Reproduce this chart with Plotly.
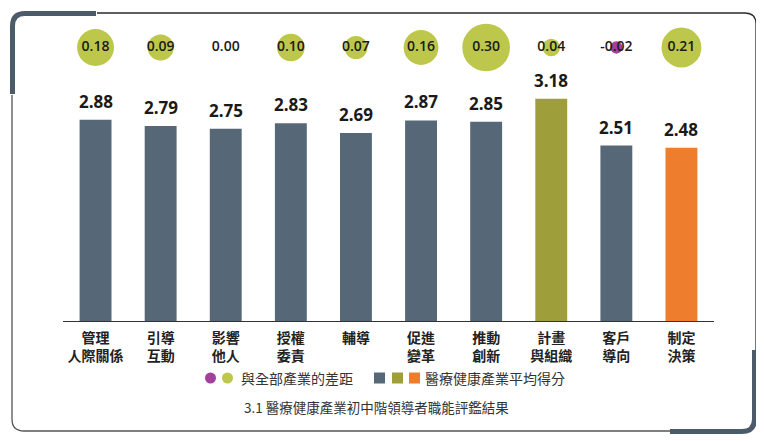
import plotly.graph_objects as go

categories = ["管理<br>人際關係", "引導<br>互動", "影響<br>他人", "授權<br>委責", "輔導",
              "促進<br>變革", "推動<br>創新", "計畫<br>與組織", "客戶<br>導向", "制定<br>決策"]
avg_scores = [2.88, 2.79, 2.75, 2.83, 2.69, 2.87, 2.85, 3.18, 2.51, 2.48]
gap_to_all = [0.18, 0.09, 0.00, 0.10, 0.07, 0.16, 0.30, 0.04, -0.02, 0.21]
bar_colors = ["#566877"] * 7 + ["#9e9e3a", "#566877", "#ee7d2e"]

GREEN = "#bcc74c"
PURPLE = "#a3409b"
SLATE = "#4b5b6a"

W, H = 764, 442
PAGE_OFFSET = 8  # default body margin of the html page
L, R, T, B = 55, 58, 12, 129
PW, PH = W - L - R, H - T - B
PX_PER_UNIT = 69.9


def px(x, y):
    # screen pixel position -> paper coords (for decorations only)
    return (x - PAGE_OFFSET - L) / PW, 1 - (y - PAGE_OFFSET - T) / PH


def path(points):
    out = []
    for cmd, pts in points:
        coords = " ".join("%.5f,%.5f" % px(*p) for p in pts)
        out.append(cmd + " " + coords)
    return " ".join(out)


fig = go.Figure()

fig.add_trace(go.Bar(
    x=categories, y=avg_scores, marker=dict(color=bar_colors, line=dict(width=0)),
    hoverinfo="skip", showlegend=False,
))

bubble_y = (321 - 47.5) / PX_PER_UNIT
max_gap = max(abs(v) for v in gap_to_all)
fig.add_trace(go.Scatter(
    x=categories, y=[bubble_y] * len(categories),
    mode="markers+text",
    text=["%.2f" % v for v in gap_to_all],
    textposition="middle center",
    textfont=dict(family="Open Sans", size=14, color="#1a1a1a", weight=600),
    marker=dict(
        size=[abs(v) for v in gap_to_all],
        sizemode="area",
        sizeref=2 * max_gap / 47.7 ** 2,
        color=[PURPLE if v < 0 else GREEN for v in gap_to_all],
        line=dict(width=0), opacity=1,
    ),
    cliponaxis=False, hoverinfo="skip", showlegend=False,
))

for cat, val in zip(categories, avg_scores):
    fig.add_annotation(
        x=cat, y=val, text="%.2f" % val, showarrow=False, yanchor="bottom", yshift=5,
        font=dict(family="Open Sans", size=17, color="#1a1a1a", weight="bold"),
    )

# legend, drawn by hand (two circles share one label)
shapes = []
ly = px(0, 378)[1]
for cx, col in [(210.5, PURPLE), (227.5, GREEN)]:
    x0, y0 = px(cx - 5.5, 378 - 5.5)
    x1, y1 = px(cx + 5.5, 378 + 5.5)
    shapes.append(dict(type="circle", xref="paper", yref="paper", x0=x0, y0=y0, x1=x1, y1=y1,
                       fillcolor=col, line=dict(width=0)))
for sx, col in [(374, "#566877"), (392, "#9e9e3a"), (409, "#ee7d2e")]:
    x0, y0 = px(sx, 378 - 5.5)
    x1, y1 = px(sx + 11, 378 + 5.5)
    shapes.append(dict(type="rect", xref="paper", yref="paper", x0=x0, y0=y0, x1=x1, y1=y1,
                       fillcolor=col, line=dict(width=0)))

fig.add_annotation(xref="paper", yref="paper", x=px(239, 0)[0], y=ly, text="與全部產業的差距",
                   showarrow=False, xanchor="left", yanchor="middle",
                   font=dict(size=14, color="#333333"))
fig.add_annotation(xref="paper", yref="paper", x=px(423, 0)[0], y=ly, text="醫療健康產業平均得分",
                   showarrow=False, xanchor="left", yanchor="middle",
                   font=dict(size=14, color="#333333"))
fig.add_annotation(xref="paper", yref="paper", x=px(376, 0)[0], y=px(0, 407)[1],
                   text="3.1 醫療健康產業初中階領導者職能評鑑結果",
                   showarrow=False, xanchor="center", yanchor="middle",
                   font=dict(size=13.5, color="#333333"))

# frame decoration
shapes += [
    dict(type="path", xref="paper", yref="paper", line=dict(color="#2b2b2b", width=1.3),
         path=path([("M", [(97, 13)]), ("L", [(745, 13)]), ("Q", [(756, 13), (756, 24)]),
                    ("L", [(756, 352)])])),
    dict(type="path", xref="paper", yref="paper", line=dict(color="#555555", width=1.3),
         path=path([("M", [(670, 431)]), ("L", [(24, 431)]), ("Q", [(12, 431), (12, 419)]),
                    ("L", [(12, 95)])])),
    dict(type="path", xref="paper", yref="paper", line=dict(color=SLATE, width=5),
         path=path([("M", [(12.5, 94)]), ("L", [(12.5, 26)]), ("Q", [(12.5, 13.5), (25, 13.5)]),
                    ("L", [(96, 13.5)])])),
    dict(type="path", xref="paper", yref="paper", line=dict(color=SLATE, width=5),
         path=path([("M", [(754.5, 350)]), ("L", [(754.5, 419)]), ("Q", [(754.5, 431.5), (742, 431.5)]),
                    ("L", [(670, 431.5)])])),
]

fig.update_layout(
    width=W, height=H,
    margin=dict(l=L, r=R, t=T, b=B),
    paper_bgcolor="white", plot_bgcolor="white",
    font=dict(family="Noto Sans CJK TC", color="#222222"),
    bargap=0.51,
    shapes=shapes,
    xaxis=dict(
        showgrid=False, showline=True, linecolor="#333333", linewidth=1,
        ticks="outside", ticklen=4, tickcolor="rgba(0,0,0,0)",
        tickfont=dict(family="Noto Sans CJK TC", size=14, color="#222222", weight="bold"),
        range=[-0.5, 9.5], fixedrange=True,
    ),
    yaxis=dict(visible=False, range=[0, PH / PX_PER_UNIT], fixedrange=True),
)

fig.write_html("out.html")
